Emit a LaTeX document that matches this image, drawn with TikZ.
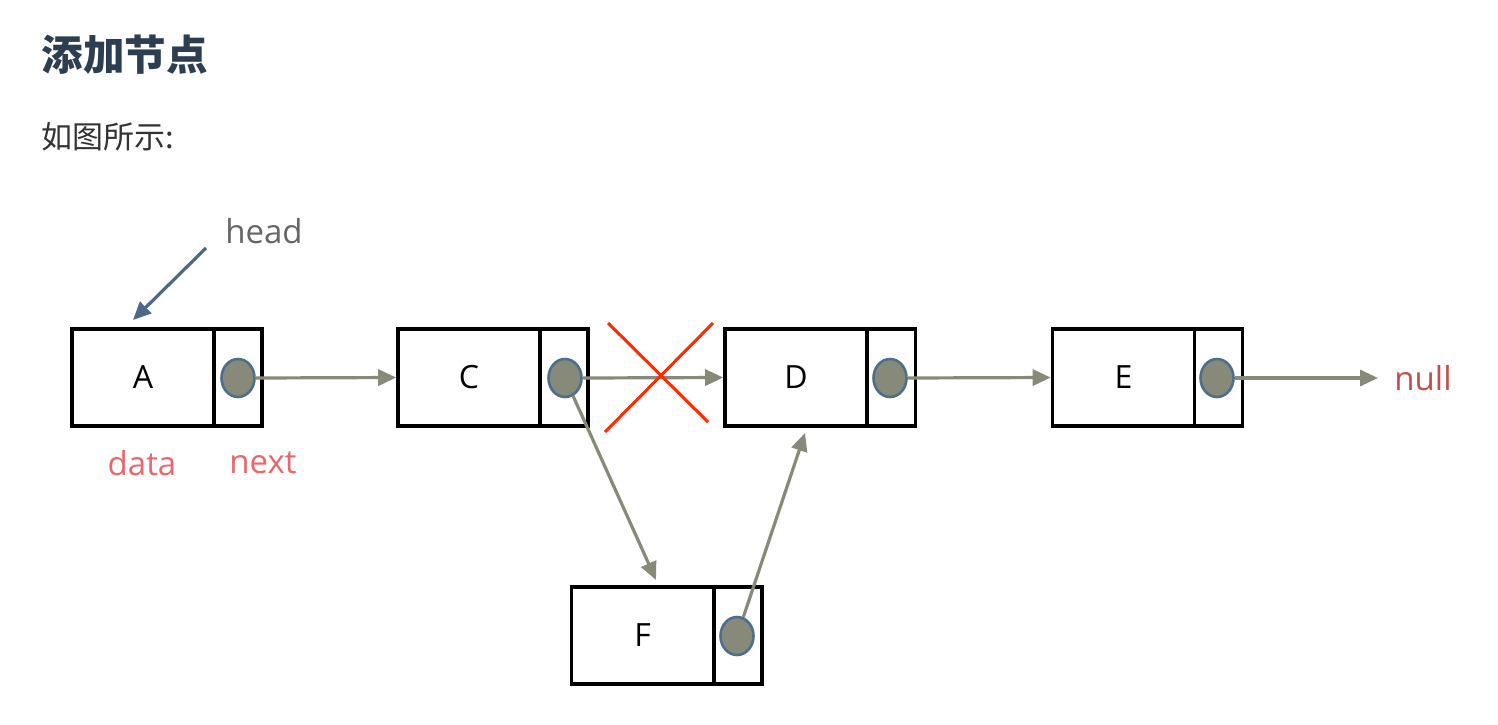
\documentclass[tikz,border=0pt]{standalone}
\usepackage{fontspec}
\setmainfont{Open Sans}
\newfontfamily\cjk{Noto Sans CJK SC}
\usetikzlibrary{arrows.meta,shapes.geometric}
\definecolor{titlec}{HTML}{2C3E50}
\definecolor{subc}{HTML}{333333}
\definecolor{linkc}{HTML}{878A78}
\definecolor{ringc}{HTML}{4F6D8C}
\definecolor{headc}{HTML}{4A6A88}
\definecolor{headt}{HTML}{666666}
\definecolor{lblc}{HTML}{E8676B}
\definecolor{nullc}{HTML}{C0504D}
\definecolor{crossc}{HTML}{FF2A00}
\tikzset{
  datacell/.style={draw=black, line width=1.8pt, minimum width=71pt, minimum height=48.5pt, inner sep=0pt, font=\fontsize{16}{18}\selectfont},
  ptrcell/.style={draw=black, line width=1.8pt, minimum width=24pt, minimum height=48.5pt, inner sep=0pt},
  dot/.style={ellipse, draw=ringc, fill=linkc, line width=1.3pt, minimum width=16.5pt, minimum height=19pt, inner sep=0pt},
  link/.style={draw=linkc, line width=1.6pt, -{Triangle[length=9pt,width=8pt]}},
  lbl/.style={font=\fontsize{16.5}{18}\selectfont, inner sep=0pt},
  cross/.style={draw=crossc, line width=1.5pt}
}
\begin{document}
\begin{tikzpicture}[x=0.5pt,y=-0.5pt]
\useasboundingbox (0,0) rectangle (1498,724);
% title
\node[anchor=west, text=titlec, inner sep=0pt, font=\cjk\bfseries\fontsize{20.8}{22}\selectfont] (title) at (41,55) {添加节点};
\node[anchor=west, text=subc, inner sep=0pt, font=\cjk\fontsize{15.5}{17}\selectfont] (sub) at (41,137) {如图所示:};
% nodes
\node[datacell] (A) at (143,377.5) {A};
\node[ptrcell] (Ap) at (238,377.5) {};
\node[datacell] (C) at (469,377.5) {C};
\node[ptrcell] (Cp) at (564,377.5) {};
\node[datacell] (D) at (796,377.5) {D};
\node[ptrcell] (Dp) at (891.5,377.5) {};
\node[datacell] (E) at (1123.5,377.5) {E};
\node[ptrcell] (Ep) at (1218.5,377.5) {};
\node[datacell] (F) at (642.5,635.5) {F};
\node[ptrcell] (Fp) at (738,635.5) {};
% texts
\node[lbl, text=headt] (head) at (264,231) {head};
\node[lbl, text=lblc] (data) at (142,463) {data};
\node[lbl, text=lblc] (next) at (263,463) {next};
\node[lbl, text=nullc, anchor=west] (null) at (1394,378) {null};
% coordinates
\coordinate (hs) at (206,248);
\coordinate (he) at (133,320);
\coordinate (nullpt) at (1378,378);
\coordinate (fin) at (656,580);
\coordinate (dfin) at (805,433);
% head arrow
\draw[draw=headc, line width=1.6pt, -{Triangle[length=9pt,width=8pt]}] (hs) -- (he);
% dots
\node[dot] (Ad) at (238,378) {};
\node[dot] (Cd) at (565,378) {};
\node[dot] (Dd) at (890,378) {};
\node[dot] (Ed) at (1217,378) {};
\node[dot] (Fd) at (737,636) {};
% links
\draw[link] (Ad.east) -- (C.west);
\draw[link] (Cd.east) -- (D.west);
\draw[link] (Dd.east) -- (E.west);
\draw[link] (Ed.east) -- (nullpt);
\draw[link] (Cd) -- (fin);
\draw[link] (Fd) -- (dfin);
% cross
\coordinate (x1) at (608,323);
\coordinate (x2) at (708,422);
\coordinate (x3) at (713,323);
\coordinate (x4) at (605,432);
\draw[cross] (x1) -- (x2);
\draw[cross] (x3) -- (x4);
\end{tikzpicture}
\end{document}
